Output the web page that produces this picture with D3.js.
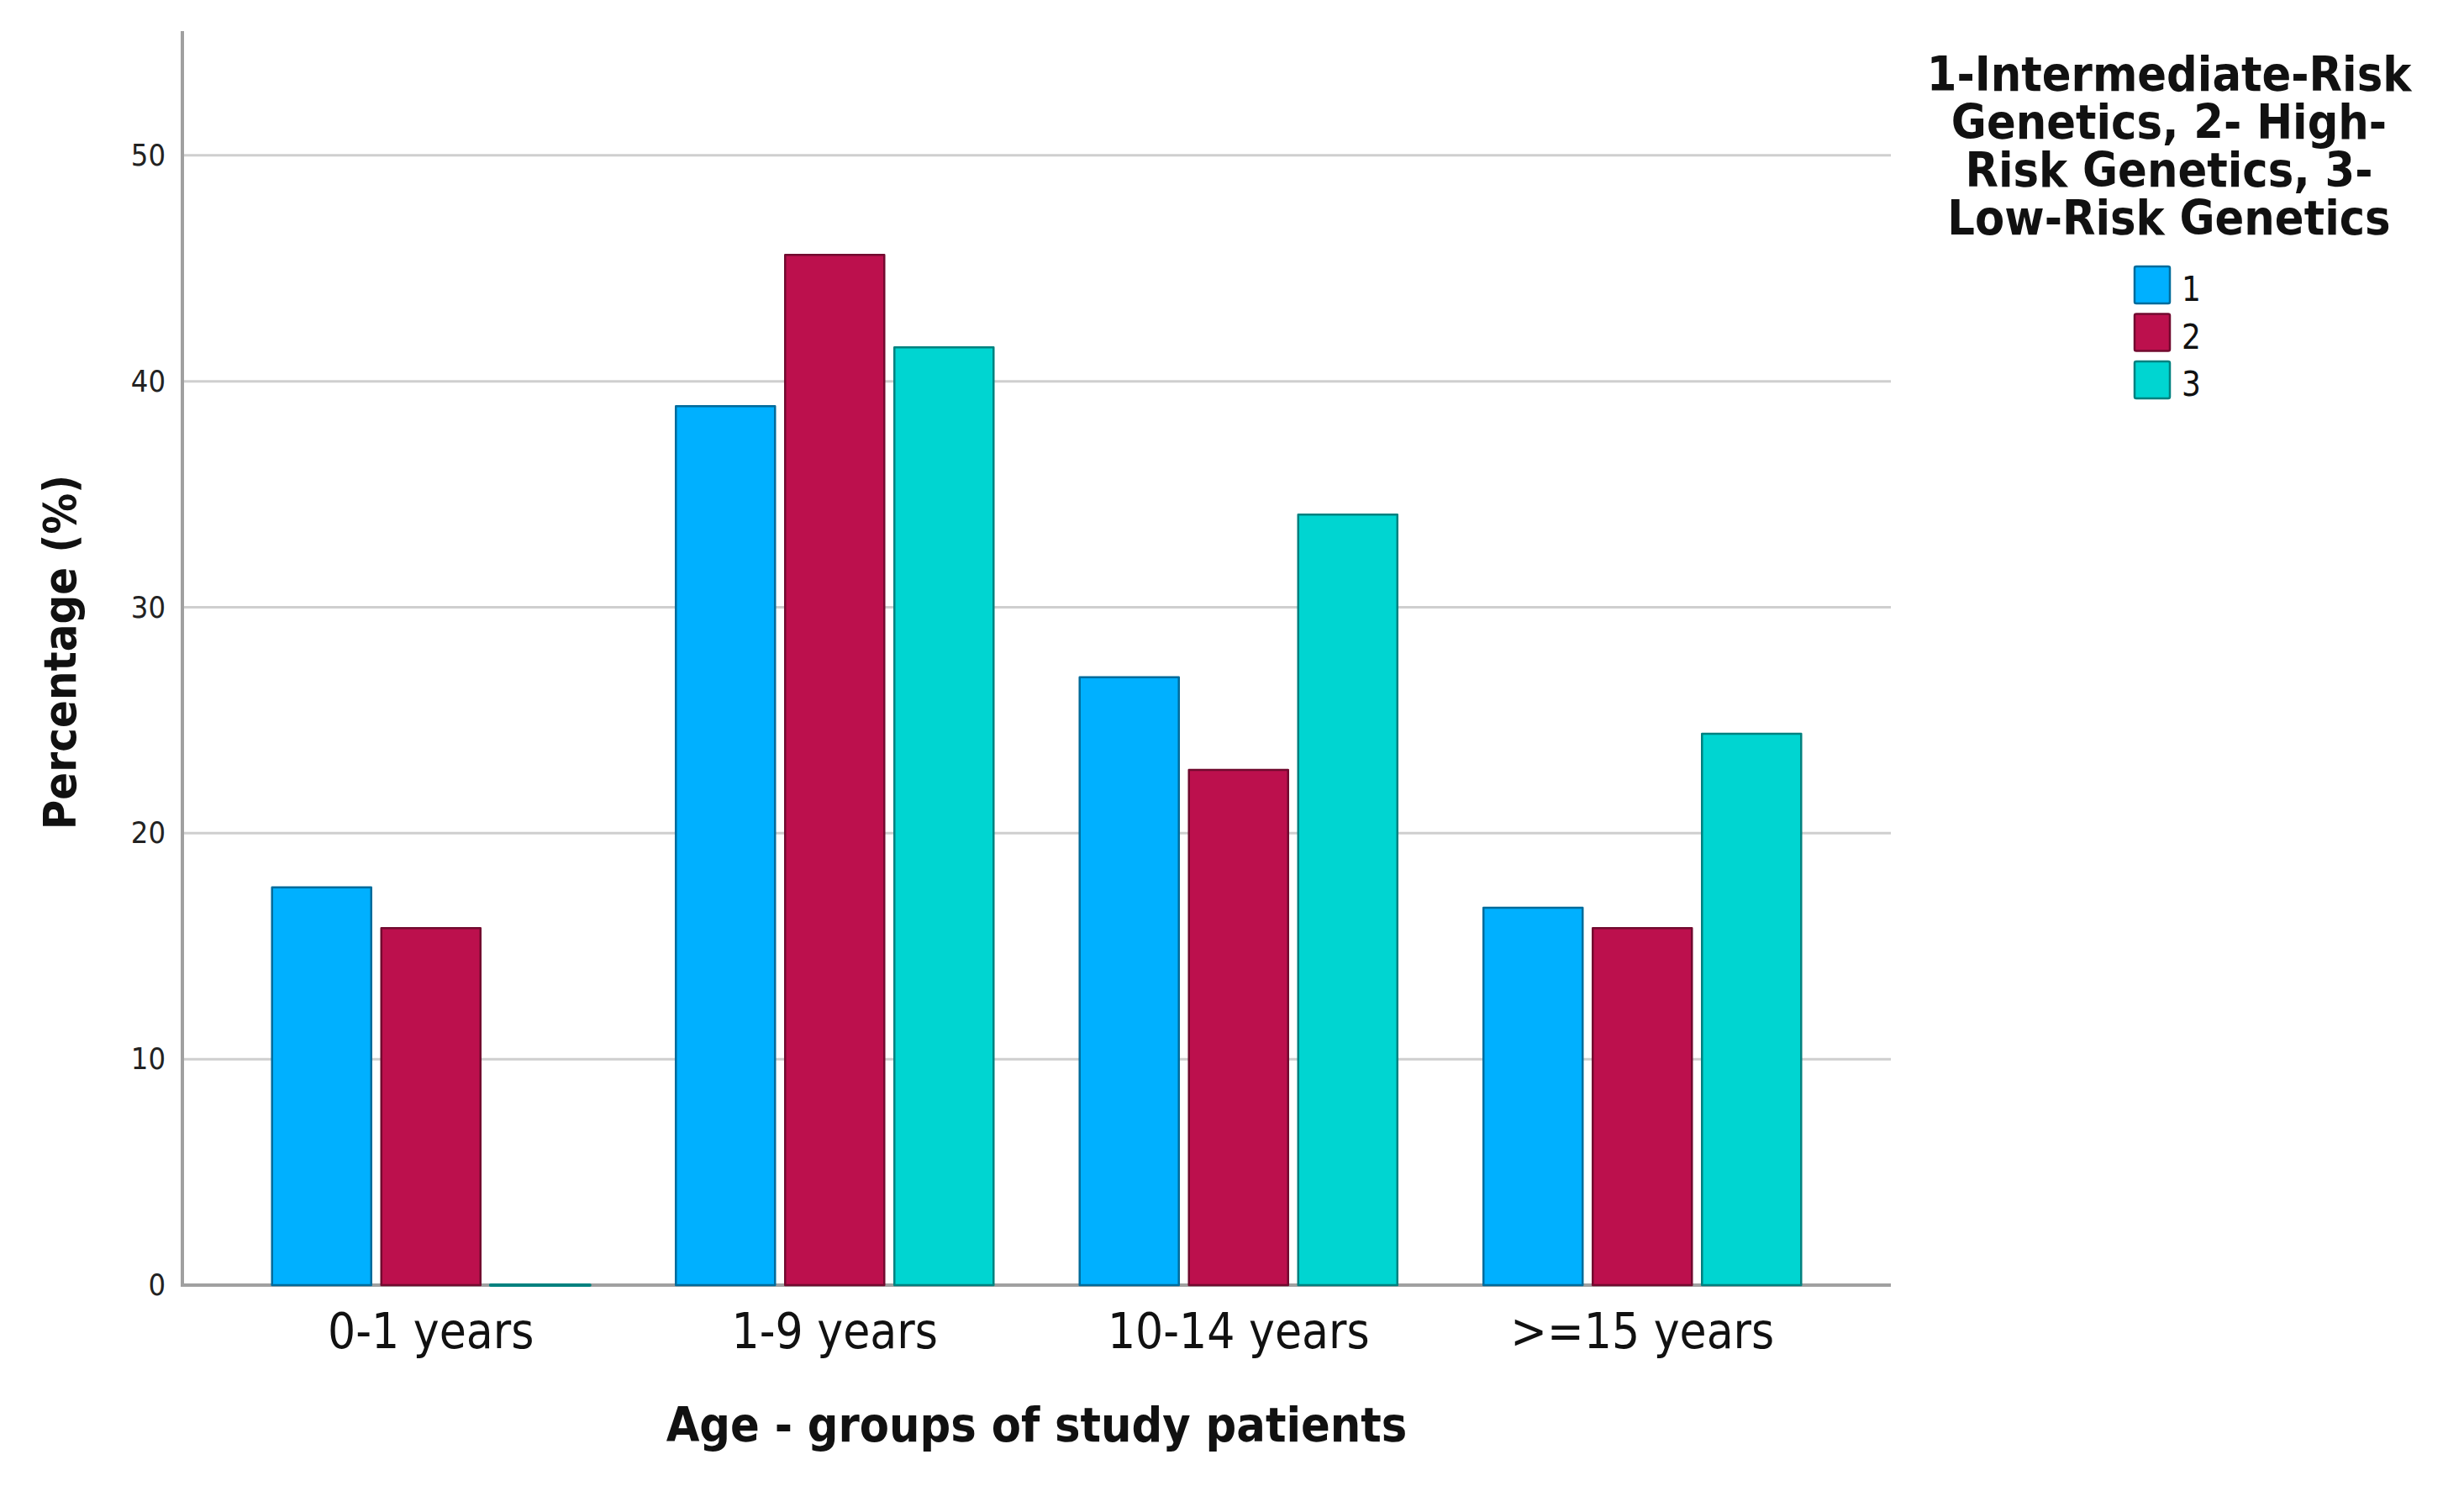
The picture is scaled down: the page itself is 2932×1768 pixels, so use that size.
<!DOCTYPE html>
<html>
<head>
<meta charset="utf-8">
<script src="https://cdn.jsdelivr.net/npm/d3@7"></script>
<style>
  body { margin: 0; background: #fff; }
  svg { display: block; font-family: "DejaVu Sans Condensed", "DejaVu Sans", sans-serif; }
</style>
</head>
<body>
<svg id="chart" width="2932" height="1768"></svg>
<script>
const ageGroups = ['0-1 years', '1-9 years', '10-14 years', '>=15 years'];
const seriesKeys = ['1', '2', '3'];
const intermediateRisk = [17.6, 38.9, 26.9, 16.7];
const highRisk = [15.8, 45.6, 22.8, 15.8];
const lowRisk = [0, 41.5, 34.1, 24.4];
const yTicks = [0, 10, 20, 30, 40, 50];
const legendTitle = ['1-Intermediate-Risk', 'Genetics, 2- High-', 'Risk Genetics, 3-', 'Low-Risk Genetics'];

const seriesValues = [intermediateRisk, highRisk, lowRisk];
const colors = ['#00b0ff', '#bc104d', '#00d5d1'];

const svg = d3.select('#chart');
const plot = { left: 217, right: 2250, top: 37, bottom: 1529 };

const x0 = d3.scaleBand()
  .domain(ageGroups)
  .range([plot.left, plot.right])
  .paddingInner(0)
  .paddingOuter(0.1155);

const x1 = d3.scaleBand()
  .domain(seriesKeys)
  .range([0, x0.bandwidth()])
  .paddingInner(0.0923)
  .paddingOuter(0.394);

const y = d3.scaleLinear()
  .domain([0, 55.5])
  .range([plot.bottom, plot.top]);

const color = d3.scaleOrdinal().domain(seriesKeys).range(colors);

// gridlines
svg.append('g')
  .selectAll('line')
  .data(yTicks.filter((t) => t > 0))
  .join('line')
  .attr('x1', plot.left)
  .attr('x2', plot.right)
  .attr('y1', (d) => y(d))
  .attr('y2', (d) => y(d))
  .attr('stroke', '#cfcfcf')
  .attr('stroke-width', 3);

// baseline
svg.append('line')
  .attr('x1', plot.left)
  .attr('x2', plot.right)
  .attr('y1', y(0))
  .attr('y2', y(0))
  .attr('stroke', '#a0a0a0')
  .attr('stroke-width', 4);

// bars
const rows = ageGroups.map((age, i) => ({
  age,
  values: seriesKeys.map((key, s) => ({ key, value: seriesValues[s][i] }))
}));

svg.append('g')
  .selectAll('g')
  .data(rows)
  .join('g')
  .attr('transform', (d) => `translate(${x0(d.age)},0)`)
  .selectAll('path')
  .data((d) => d.values)
  .join('path')
  .attr('d', (d) => {
    const bx = x1(d.key);
    const w = x1.bandwidth();
    const top = y(d.value);
    const h = y(0) - top;
    return `M${bx},${top}h${w}v${h}h${-w}Z`;
  })
  .attr('fill', (d) => color(d.key))
  .attr('stroke', (d) => d3.color(color(d.key)).darker(1.4))
  .attr('stroke-width', (d) => (d.value === 0 ? 4 : 2.5))
  .attr('stroke-linejoin', 'round');

// y axis
svg.append('line')
  .attr('x1', plot.left)
  .attr('x2', plot.left)
  .attr('y1', plot.top)
  .attr('y2', y(0) + 2)
  .attr('stroke', '#a0a0a0')
  .attr('stroke-width', 4);

const yAxis = svg.append('g')
  .attr('transform', `translate(${plot.left},0)`)
  .call(d3.axisLeft(y).tickValues(yTicks).tickSize(0).tickPadding(20));
yAxis.select('.domain').remove();
yAxis.selectAll('text')
  .attr('font-size', 36)
  .attr('font-family', '"DejaVu Sans Condensed", "DejaVu Sans", sans-serif')
  .attr('fill', '#222');

// x axis labels
const xAxis = svg.append('g')
  .attr('transform', `translate(0,${y(0)})`)
  .call(d3.axisBottom(x0).tickSize(0).tickPadding(34));
xAxis.select('.domain').remove();
xAxis.selectAll('text')
  .attr('font-size', 58)
  .attr('font-family', '"DejaVu Sans Condensed", "DejaVu Sans", sans-serif')
  .attr('fill', '#111');

// axis titles
svg.append('text')
  .attr('x', (plot.left + plot.right) / 2)
  .attr('y', 1715)
  .attr('text-anchor', 'middle')
  .attr('font-size', 57)
  .attr('font-weight', 'bold')
  .attr('fill', '#111')
  .text('Age - groups of study patients');

svg.append('text')
  .attr('transform', 'translate(90,776) rotate(-90)')
  .attr('text-anchor', 'middle')
  .attr('font-size', 54)
  .attr('font-weight', 'bold')
  .attr('fill', '#111')
  .text('Percentage (%)');

// legend
const legend = svg.append('g');
legend.append('text')
  .attr('x', 2581)
  .attr('y', 108)
  .attr('text-anchor', 'middle')
  .attr('font-size', 57)
  .attr('font-weight', 'bold')
  .attr('fill', '#111')
  .selectAll('tspan')
  .data(legendTitle)
  .join('tspan')
  .attr('x', 2581)
  .attr('dy', (_, i) => (i === 0 ? 0 : 57))
  .text((d) => d);

const items = legend.selectAll('g.item')
  .data(seriesKeys)
  .join('g')
  .attr('class', 'item')
  .attr('transform', (_, i) => `translate(2540,${317 + i * 56.5})`);

items.append('rect')
  .attr('width', 42)
  .attr('height', 44)
  .attr('rx', 2)
  .attr('fill', (d) => color(d))
  .attr('stroke', (d) => d3.color(color(d)).darker(1.4))
  .attr('stroke-width', 2.5);

items.append('text')
  .attr('x', 56)
  .attr('y', 41)
  .attr('font-size', 40)
  .attr('fill', '#111')
  .text((d) => d);
</script>
</body>
</html>
